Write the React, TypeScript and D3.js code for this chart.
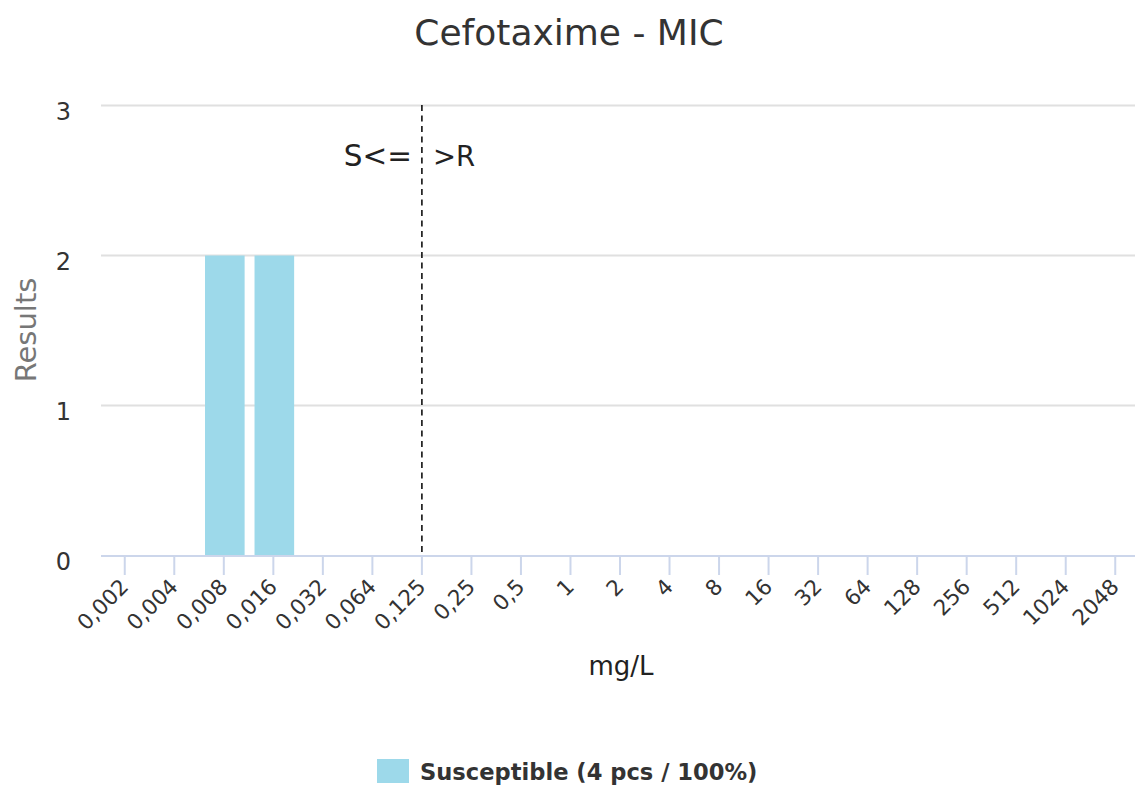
import React from "react";
import * as d3 from "d3";

const categories = ["0,002","0,004","0,008","0,016","0,032","0,064","0,125","0,25","0,5","1","2","4","8","16","32","64","128","256","512","1024","2048"];
const susceptible = [0,0,2,2,0,0,0,0,0,0,0,0,0,0,0,0,0,0,0,0,0];
const yTicks = [0,1,2,3];
const breakpoint = "0,125";
const title = "Cefotaxime - MIC";
const legendLabel = "Susceptible (4 pcs / 100%)";

const W = 1135, H = 795;
const FONT = "'DejaVu Sans', sans-serif";

export default function App() {
  const bx = d3.scaleBand<string>().domain(categories).range([100, 1140]).padding(0);
  const step = bx.step();
  const xc = (c: string) => (bx(c) as number) + step / 2;
  const y = d3.scaleLinear().domain([0, 3]).range([555.5, 105.5]);
  const plotLeft = 101;
  const barW = step * 0.8;
  const bp = xc(breakpoint);
  return (
    <svg width={W} height={H} style={{ position: "absolute", left: 0, top: 0, background: "#fff" }} fontFamily={FONT}>
      <text x={569} y={44.5} textAnchor="middle" fontSize={36} fill="#333">{title}</text>
      {yTicks.filter(t => t > 0).map(t => (
        <line key={"g" + t} x1={plotLeft} x2={W} y1={y(t)} y2={y(t)} stroke="#e0e0e0" strokeWidth={2} />
      ))}
      {yTicks.map(t => (
        <text key={"yt" + t} x={71} y={y(t) + 14.5} textAnchor="end" fontSize={24} fill="#333">{t}</text>
      ))}
      <text transform={`translate(36,330) rotate(-90)`} textAnchor="middle" fontSize={29} fill="#777">Results</text>
      {categories.map((c, i) => susceptible[i] > 0 ? (
        <rect key={"b" + c} x={xc(c) + 1 - barW / 2} width={barW} y={y(susceptible[i])} height={y(0) - y(susceptible[i])} fill="#9dd9ea" />
      ) : null)}
      <line x1={plotLeft} x2={W} y1={556} y2={556} stroke="#ccd6eb" strokeWidth={2} />
      {categories.map(c => (
        <line key={"t" + c} x1={xc(c)} x2={xc(c)} y1={556} y2={575} stroke="#ccd6eb" strokeWidth={2} />
      ))}
      {categories.map(c => (
        <text key={"l" + c} transform={`translate(${xc(c) + 5},588) rotate(-45)`} textAnchor="end" fontSize={21.5} fill="#333">{c}</text>
      ))}
      <text x={621} y={675} textAnchor="middle" fontSize={26} fill="#222">mg/L</text>
      <line x1={bp} x2={bp} y1={105} y2={556} stroke="#000" strokeWidth={1.5} strokeDasharray="6,4.5" />
      <text x={bp - 10} y={166} textAnchor="end" fontSize={29.5} fill="#222">S&lt;=</text>
      <text x={bp + 11} y={166} textAnchor="start" fontSize={27.5} fill="#222">&gt;R</text>
      <rect x={377} y={759} width={32} height={24} fill="#9dd9ea" />
      <text x={420} y={780} fontSize={22.6} fontWeight="bold" fill="#333">{legendLabel}</text>
    </svg>
  );
}
